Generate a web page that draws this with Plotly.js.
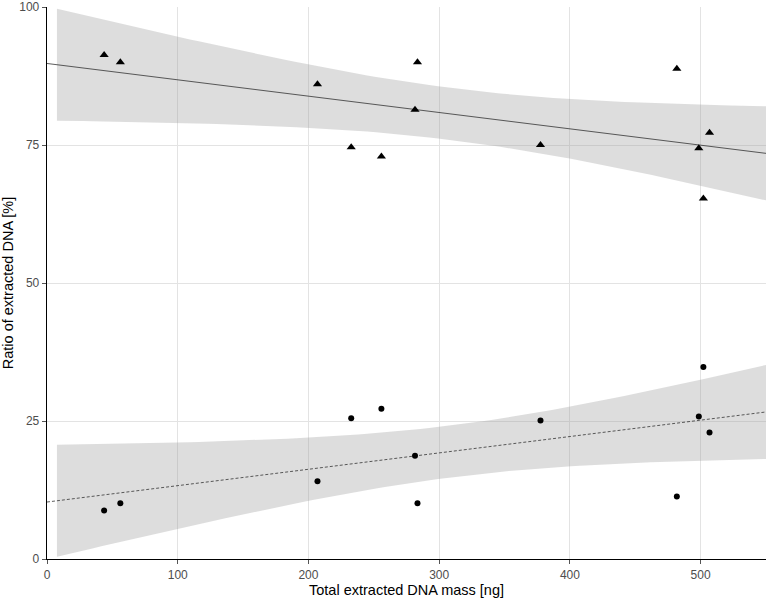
<!DOCTYPE html>
<html>
<head>
<meta charset="utf-8">
<script src="https://cdn.plot.ly/plotly-3.0.1.min.js"></script>
<style>html,body{margin:0;padding:0;background:#fff;}#chart{width:770px;height:598px;}</style>
</head>
<body>
<div id="chart"></div>
<script>
// Data
const mass = [43.7, 56.1, 206.9, 232.7, 255.8, 283.4, 281.5, 377.5, 481.8, 498.6, 506.8, 502.1];
const upperRatio = [91.3, 90.0, 86.0, 74.6, 72.9, 90.0, 81.4, 75.0, 88.8, 74.4, 77.2, 65.3];
const lowerRatio = [8.8, 10.1, 14.1, 25.5, 27.2, 10.1, 18.7, 25.1, 11.3, 25.8, 22.9, 34.8];
const xTickVals = [0, 100, 200, 300, 400, 500];
const yTickVals = [0, 25, 50, 75, 100];
const bandStart = 7.6, bandEnd = 550, lineStart = 0, lineEnd = 550;
const tCrit = 2.228; // t(0.975, df = 10)

// Linear regression with 95% confidence band, computed from the data
function fit(x, y) {
  const n = x.length;
  const mx = x.reduce((a, b) => a + b, 0) / n;
  const my = y.reduce((a, b) => a + b, 0) / n;
  let sxx = 0, sxy = 0;
  for (let i = 0; i < n; i++) { sxx += (x[i] - mx) ** 2; sxy += (x[i] - mx) * (y[i] - my); }
  const b = sxy / sxx, a = my - b * mx;
  let sse = 0;
  for (let i = 0; i < n; i++) sse += (y[i] - a - b * x[i]) ** 2;
  const s = Math.sqrt(sse / (n - 2));
  const pred = v => a + b * v;
  const half = v => tCrit * s * Math.sqrt(1 / n + (v - mx) ** 2 / sxx);
  return { pred, half };
}

function bandTraces(x, y, dash) {
  const f = fit(x, y);
  const xs = [];
  const steps = 80;
  for (let i = 0; i <= steps; i++) xs.push(bandStart + (bandEnd - bandStart) * i / steps);
  const lo = xs.map(v => f.pred(v) - f.half(v));
  const hi = xs.map(v => f.pred(v) + f.half(v));
  return [
    { x: xs.concat(xs.slice().reverse()), y: hi.concat(lo.slice().reverse()), type: 'scatter', mode: 'lines',
      fill: 'toself', fillcolor: 'rgba(153,153,153,0.33)', line: { width: 0 }, hoverinfo: 'skip', showlegend: false },
    { x: [lineStart, lineEnd], y: [f.pred(lineStart), f.pred(lineEnd)], type: 'scatter', mode: 'lines',
      line: { color: '#333333', width: 0.8, dash: dash }, showlegend: false }
  ];
}

const traces = [
  ...bandTraces(mass, upperRatio, 'solid'),
  ...bandTraces(mass, lowerRatio, '3px,2px'),
  { x: mass, y: upperRatio, type: 'scatter', mode: 'markers',
    marker: { symbol: 'triangle-up', size: 8, color: '#000' }, showlegend: false },
  { x: mass, y: lowerRatio, type: 'scatter', mode: 'markers',
    marker: { symbol: 'circle', size: 6, color: '#000' }, showlegend: false }
];

const axisCommon = {
  showline: true, linecolor: '#000', linewidth: 1.3, mirror: false,
  showgrid: true, gridcolor: '#e3e3e3', gridwidth: 1, zeroline: false,
  ticks: 'outside', ticklen: 4, tickcolor: '#555', tickwidth: 1,
  tickfont: { family: 'Liberation Sans, Arial, sans-serif', size: 12, color: '#4d4d4d' },
  automargin: false
};

const layout = {
  width: 770, height: 598,
  margin: { l: 47, r: 4, t: 7, b: 39 },
  paper_bgcolor: '#fff', plot_bgcolor: '#fff',
  showlegend: false,
  xaxis: Object.assign({}, axisCommon, {
    range: [0, 550], tickvals: xTickVals, ticktext: xTickVals.map(String),
    title: { text: 'Total extracted DNA mass [ng]', font: { family: 'Liberation Sans, Arial, sans-serif', size: 14.5, color: '#000' }, standoff: 0 }
  }),
  yaxis: Object.assign({}, axisCommon, {
    range: [0, 100], tickvals: yTickVals, ticktext: yTickVals.map(String),
    title: { text: 'Ratio of extracted DNA [%]', font: { family: 'Liberation Sans, Arial, sans-serif', size: 14.5, color: '#000' }, standoff: 2 }
  })
};

Plotly.newPlot('chart', traces, layout, { displayModeBar: false, staticPlot: true });
</script>
</body>
</html>
